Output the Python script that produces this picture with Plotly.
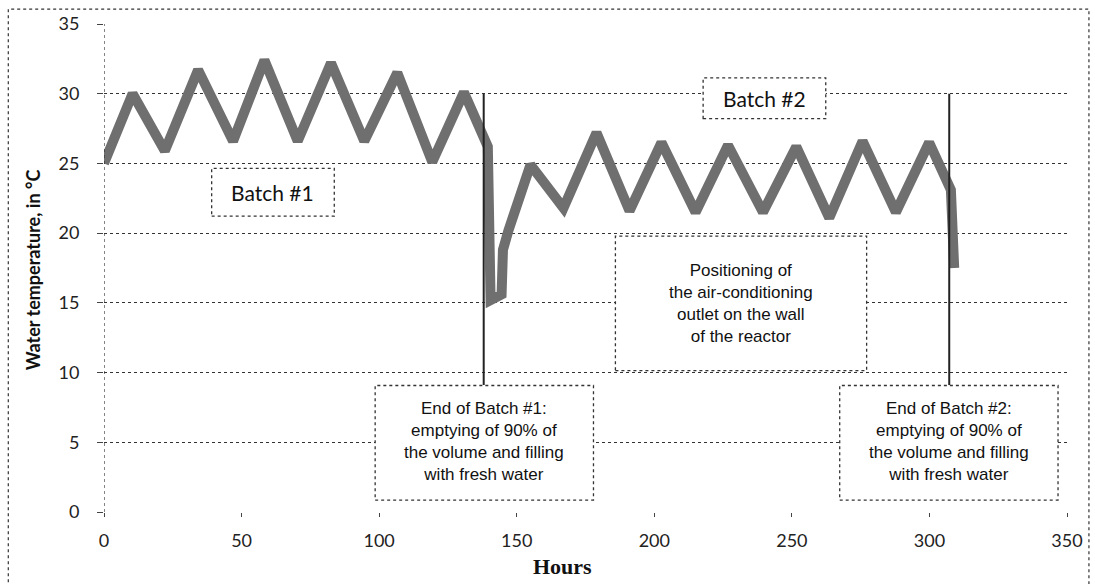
import plotly.graph_objects as go

# ---- data ----
hours = [0, 10.4, 22.1, 34.2, 46.9, 58.3, 70.4, 82.5, 94.6, 106.6, 119.3, 130.8, 139.5,
         140.5, 144.5, 145, 147, 155,
         167, 179, 191, 202.6, 215, 226.8, 239.5, 251.6, 263.6, 275.7, 287.8, 299.9, 307.8, 309]
temps = [25.0, 30.0, 25.9, 31.7, 26.6, 32.4, 26.6, 32.2, 26.6, 31.5, 25.1, 30.1, 26.2,
         15.2, 15.6, 18.8, 20.2, 24.9,
         21.8, 27.2, 21.6, 26.5, 21.5, 26.3, 21.5, 26.2, 21.1, 26.6, 21.5, 26.5, 23.1, 17.5]

x_ticks = [0, 50, 100, 150, 200, 250, 300, 350]
y_ticks = [0, 5, 10, 15, 20, 25, 30, 35]

batch_end_hours = [138.0, 307.2]
batch_end_top = 30.0
batch_end_bottom = 9.1

batch_labels = ["Batch #1", "Batch #2"]
end_text = ["End of Batch #1:<br>emptying of 90% of<br>the volume and filling<br>with fresh water",
            "End of Batch #2:<br>emptying of 90% of<br>the volume and filling<br>with fresh water"]
pos_text = "Positioning of<br>the air-conditioning<br>outlet on the wall<br>of the reactor"

W, H = 1095, 584
L, R, T, B = 104, 1070, 22, 512  # plot area in pixels


def px(x):
    return (x - L) / (R - L)


def py(y):
    return (B - y) / (B - T)


fig = go.Figure()
fig.add_trace(go.Scatter(x=hours, y=temps, mode="lines",
                         line=dict(color="#6f6f6f", width=10),
                         hoverinfo="skip", showlegend=False))

shapes = []
# dotted left axis line
shapes.append(dict(type="line", xref="x", yref="y", x0=0, x1=0, y0=0, y1=35,
                   line=dict(color="#333", width=1.2, dash="dot"), layer="above"))
# outer dotted border
shapes.append(dict(type="rect", xref="paper", yref="paper",
                   x0=px(8), x1=px(1092), y0=py(590), y1=py(7),
                   line=dict(color="#333", width=1.2, dash="dot"), layer="above"))
# batch end vertical lines
for h in batch_end_hours:
    shapes.append(dict(type="line", xref="x", yref="y", x0=h, x1=h,
                       y0=batch_end_bottom, y1=batch_end_top,
                       line=dict(color="#222", width=2), layer="above"))

box_style = dict(line=dict(color="#333", width=1.3, dash="dot"), fillcolor="white", layer="above")
boxes = [
    (212, 335, 167, 215),   # Batch #1
    (705, 828, 76, 117),    # Batch #2
    (617, 869, 235, 370),   # Positioning
    (376, 595, 385, 500),   # End of batch 1
    (842, 1061, 385, 500),  # End of batch 2
]
for x0, x1, y0, y1 in boxes:
    shapes.append(dict(type="rect", xref="paper", yref="paper",
                       x0=px(x0), x1=px(x1), y0=py(y1), y1=py(y0), **box_style))

annotations = []
calib = "Lato, Carlito, Calibri, sans-serif"
arial = "Liberation Sans, Arial, sans-serif"


def note(xp, yp, text, font, angle=0):
    annotations.append(dict(xref="paper", yref="paper", x=px(xp), y=py(yp), text=text,
                            xanchor="center", yanchor="middle", textangle=angle,
                            showarrow=False, font=font))


note(273.5, 191, batch_labels[0], dict(family=calib, size=21, color="#111"))
note(766.5, 97, batch_labels[1], dict(family=calib, size=21, color="#111"))
note(743, 303, pos_text, dict(family=arial, size=17, color="#111"))
note(485.5, 441, end_text[0], dict(family=arial, size=17, color="#111"))
note(951.5, 441, end_text[1], dict(family=arial, size=17, color="#111"))
# axis titles
note(564, 567, "<b>Hours</b>", dict(family="Liberation Serif, Times New Roman, serif", size=22, color="#111"))
note(33, 269, "<b>Water temperature, in °C</b>", dict(family=calib, size=18, color="#111"), angle=-90)

fig.update_layout(
    width=W, height=H,
    margin=dict(l=L, r=W - R, t=T, b=H - B),
    paper_bgcolor="white", plot_bgcolor="white",
    shapes=shapes, annotations=annotations,
    showlegend=False,
)
fig.update_xaxes(range=[0, 350], tickvals=x_ticks, showgrid=False, zeroline=False, showline=False,
                 ticks="outside", ticklen=4, tickcolor="#444", ticklabelstandoff=8,
                 tickfont=dict(family=calib, size=18, color="#222"))
fig.update_yaxes(range=[0, 35], tickvals=y_ticks, showgrid=True, gridcolor="#333", gridwidth=1,
                 griddash="dot", zeroline=False, showline=False,
                 ticks="outside", ticklen=6, tickcolor="#444", ticklabelstandoff=14,
                 tickfont=dict(family=calib, size=18, color="#222"))

fig.write_html("out.html")
